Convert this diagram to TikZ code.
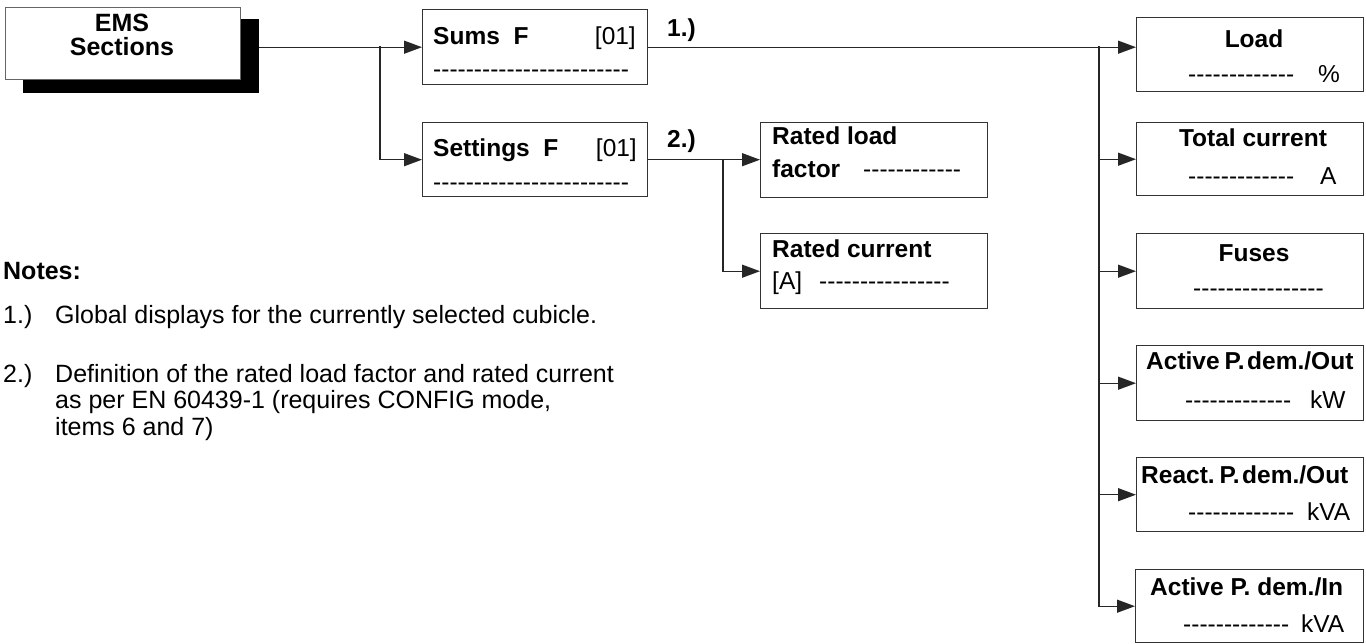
\documentclass[tikz,border=0pt]{standalone}
\usepackage{fontspec}
\setmainfont{Liberation Sans}
\usetikzlibrary{arrows.meta}
\ExplSyntaxOn
\cs_new:Npn \dashrow #1 {\prg_replicate:nn{#1}{-\kern0pt}}
\ExplSyntaxOff
\begin{document}
\begin{tikzpicture}[x=1pt,y=-1pt,
  box/.style={draw=black!80, line width=1.4pt, fill=white, inner sep=0pt, anchor=north west, minimum width=227pt, minimum height=75pt},
  shadowbox/.style={fill=black, draw=none, inner sep=0pt, anchor=north west},
  lab/.style={font=\fontsize{24.5}{27}\selectfont\bfseries, inner sep=0pt, anchor=base west},
  txt/.style={font=\fontsize{24.5}{27}\selectfont, inner sep=0pt, anchor=base west},
  note/.style={font=\fontsize{25}{27}\selectfont, inner sep=0pt, anchor=base west},
  ln/.style={line width=1.3pt, draw=black!85},
  arr/.style={ln, -{Triangle[length=18pt,width=13pt]}}]
\useasboundingbox (0,0) rectangle (1366,644);
% EMS
\node[shadowbox, minimum width=236pt, minimum height=74pt] (emsshadow) at (23,19) {};
\node[box, draw=black!60, line width=1pt, minimum width=235pt, minimum height=72pt] (ems) at (5,7) {};
\node[lab, anchor=base, font=\fontsize{25}{27}\selectfont\bfseries] (emst1) at (122,32) {EMS};
\node[lab, anchor=base, font=\fontsize{25}{27}\selectfont\bfseries] (emst2) at (122,56) {Sections};
% Sums / Settings
\node[box, minimum width=225pt] (sums) at (422,9) {};
\node[lab] (sumst) at (433,45) {Sums\ \ F};
\node[txt, anchor=base east] (sumsn) at (636,45) {[01]};
\node[txt] (sumsd) at (433,78) {\dashrow{24}};
\node[box, minimum width=225pt, minimum height=74pt] (settings) at (422,122) {};
\node[lab] (sett) at (433,157) {Settings\ \ F};
\node[txt, anchor=base east] (setn) at (637,157) {[01]};
\node[txt] (setd) at (433,191) {\dashrow{24}};
\node[lab] (l1) at (667,37) {1.)};
\node[lab] (l2) at (667,148) {2.)};
% Rated
\node[box] (ratedload) at (760,122) {};
\node[lab] (rlt1) at (772,145) {Rated load};
\node[lab] (rlt2) at (772,178) {factor};
\node[txt] (rld) at (863,178) {\dashrow{12}};
\node[box] (ratedcur) at (760,233) {};
\node[lab] (rct1) at (772,258) {Rated current};
\node[txt] (rct2) at (772,290) {[A]};
\node[txt] (rcd) at (819,290) {\dashrow{16}};
% right column
\node[box, minimum height=74pt] (load) at (1136,17) {};
\node[lab, anchor=base] (loadt) at (1254,48) {Load};
\node[txt] (loadd) at (1188,83) {\dashrow{13}};
\node[txt] (loadu) at (1318,83) {\%};
\node[box, minimum height=73pt] (total) at (1136,122) {};
\node[lab, anchor=base] (totalt) at (1253,147) {Total current};
\node[txt] (totald) at (1188,185) {\dashrow{13}};
\node[txt] (totalu) at (1320,185) {A};
\node[box] (fuses) at (1136,233) {};
\node[lab, anchor=base] (fusest) at (1254,262) {Fuses};
\node[txt] (fusesd) at (1193,297) {\dashrow{16}};
\node[box] (actout) at (1136,345) {};
\node[lab] (actoutt) at (1146,370) {Active\hspace{5pt}P.\hspace{2.5pt}dem./Out};
\node[txt] (actoutd) at (1185,408) {\dashrow{13}};
\node[txt] (actoutu) at (1310,408) {kW};
\node[box, minimum height=74pt] (react) at (1136,457) {};
\node[lab] (reactt) at (1141,483) {React.\hspace{5pt}P.\hspace{2.5pt}dem./Out};
\node[txt] (reactd) at (1188,520) {\dashrow{13}};
\node[txt] (reactu) at (1307,520) {kVA};
\node[box, minimum width=228pt, minimum height=73pt] (actin) at (1135,569) {};
\node[lab] (actint) at (1150,595) {Active P. dem./In};
\node[txt] (actind) at (1183,632) {\dashrow{13}};
\node[txt] (actinu) at (1301,632) {kVA};
% connectors
\coordinate (b1) at (380,46.5);
\coordinate (b2) at (723,159);
\coordinate (b3) at (1099,46.5);
\draw[arr] (emsshadow.east |- sums.west) -- (sums.west);
\draw[arr] (b1) |- (settings.west);
\draw[arr] (sums.east) -- (load.west |- sums.east);
\foreach \n in {total,fuses,actout,react,actin} \draw[arr] (b3) |- (\n.west);
\draw[arr] (settings.east) -- (ratedload.west |- settings.east);
\draw[arr] (b2) |- (ratedcur.west);
% notes
\node[note, font=\fontsize{25}{27}\selectfont\bfseries] (notes) at (3,280) {Notes:};
\node[note] (n1a) at (3,324) {1.)};
\node[note] (n1b) at (55,324) {Global displays for the currently selected cubicle.};
\node[note] (n2a) at (3,382) {2.)};
\node[note] (n2b) at (55,382) {Definition of the rated load factor and rated current};
\node[note] (n2c) at (55,408.5) {as per EN 60439-1 (requires CONFIG mode,};
\node[note] (n2d) at (55,435) {items 6 and 7)};
\end{tikzpicture}
\end{document}
